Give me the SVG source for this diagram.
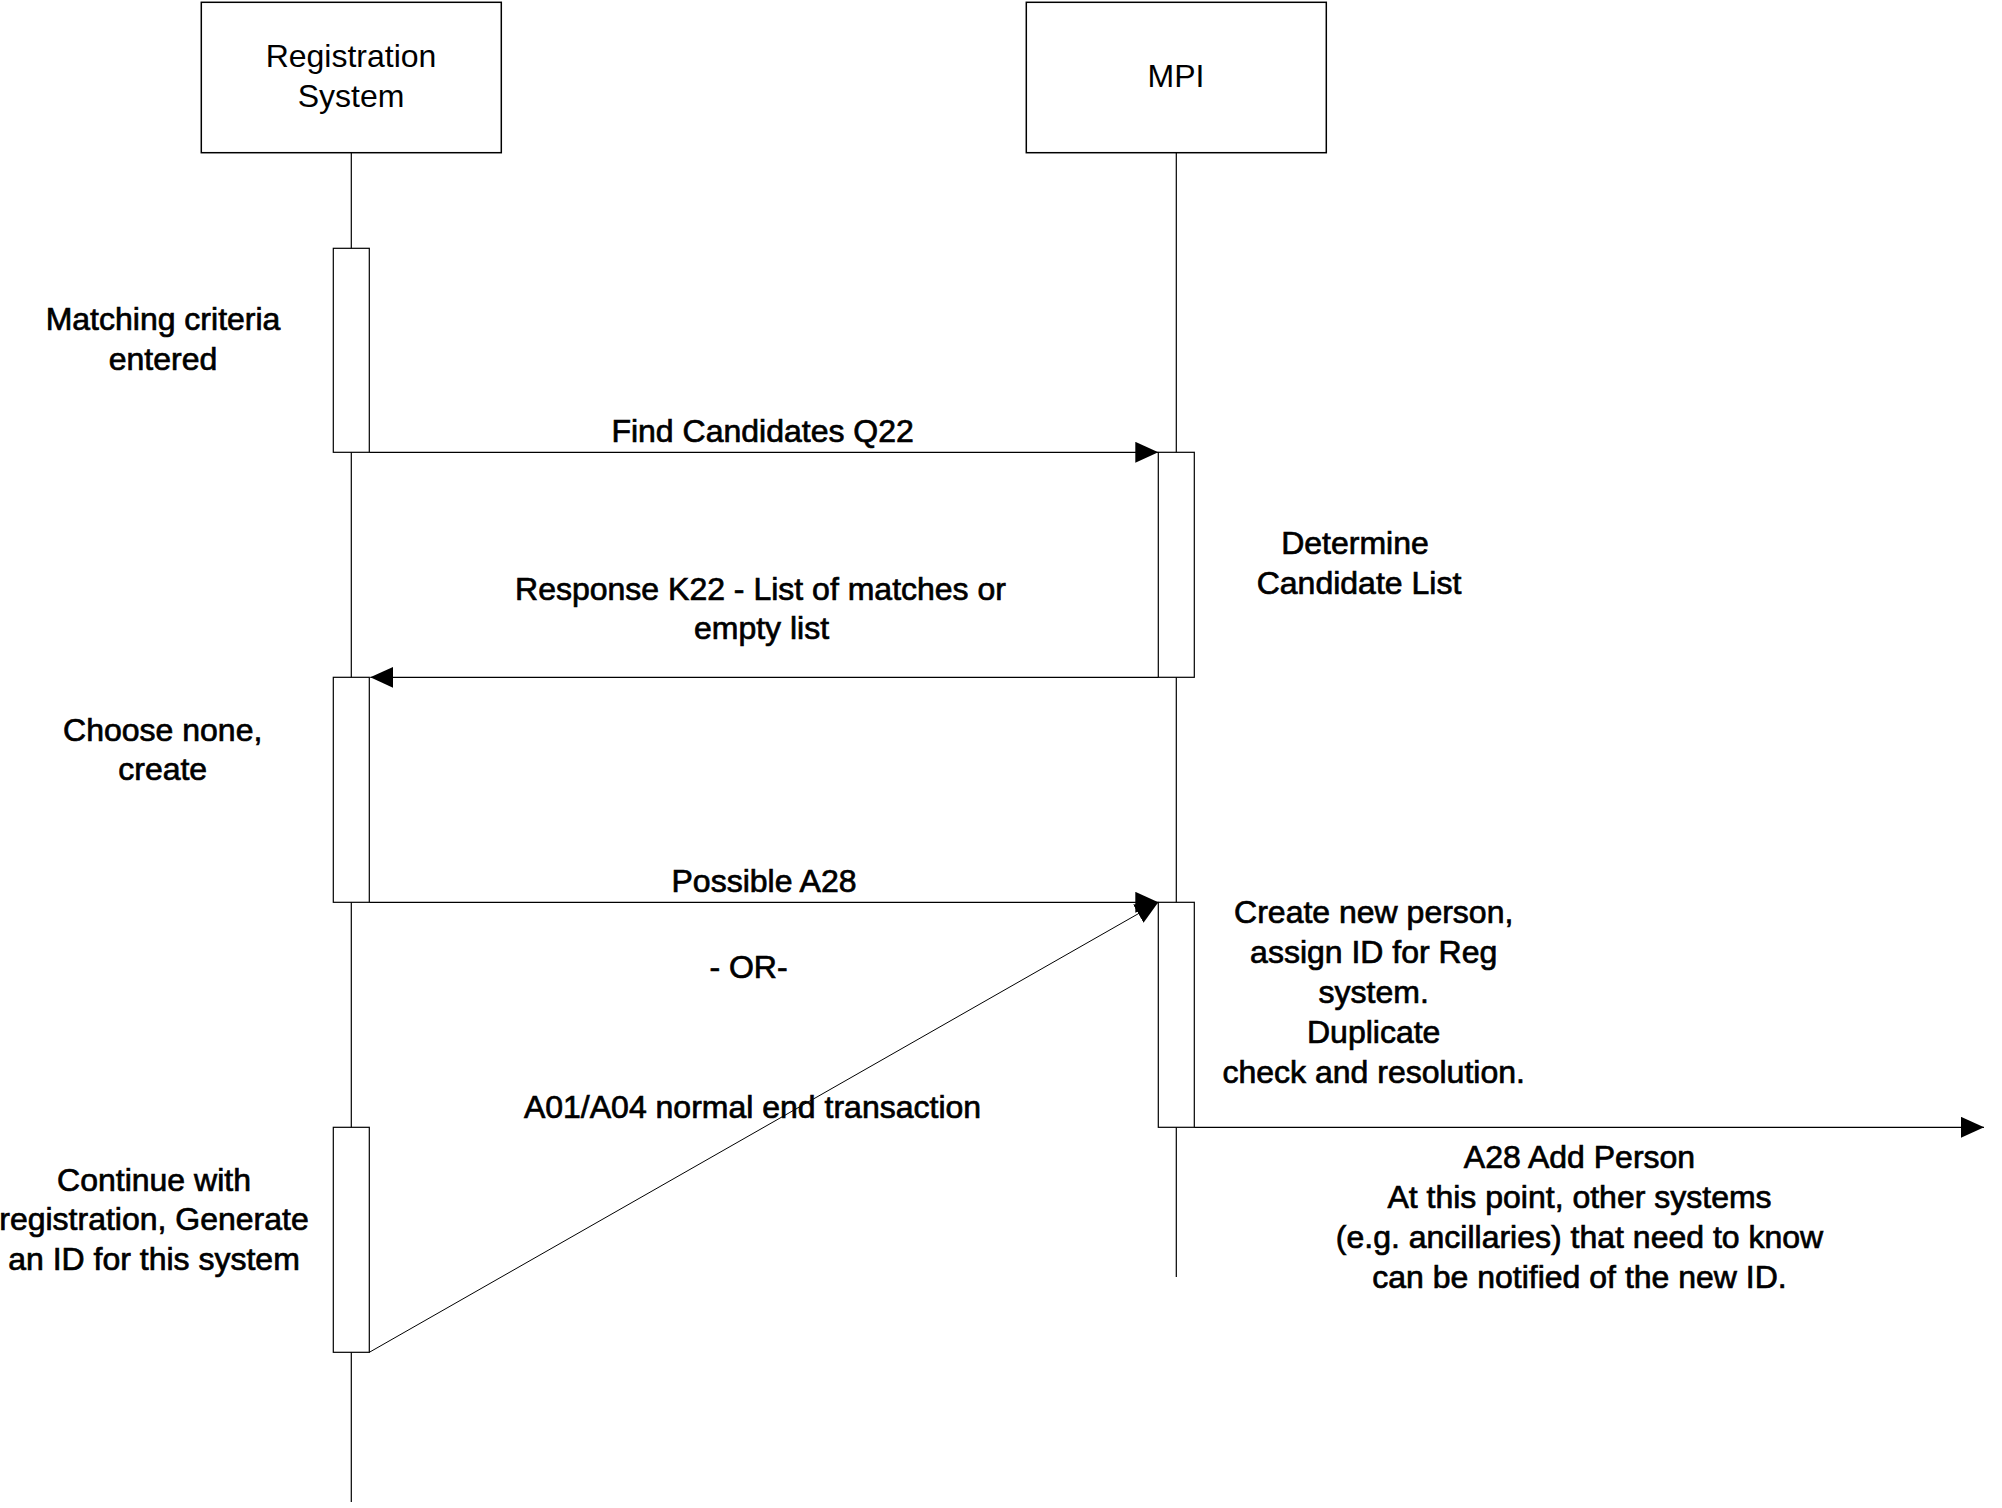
<svg xmlns="http://www.w3.org/2000/svg" width="2002" height="1508" viewBox="0 0 2002 1508">
<style>
  .box { fill: #fff; stroke: #000; stroke-width: 1.5; }
  .act { fill: #fff; stroke: #000; stroke-width: 1.2; }
  .life { stroke: #000; stroke-width: 1.2; fill: none; }
  .msg { stroke: #000; stroke-width: 1.2; fill: none; marker-end: url(#arrow); }
  .title { font-family: "Liberation Sans", Arial, sans-serif; font-size: 32px; fill: #000; text-anchor: middle; }
  .lbl { font-family: "Liberation Sans", Arial, sans-serif; font-size: 32px; fill: #000; stroke: #000; stroke-width: 0.7; text-anchor: middle; }
</style>
<defs>
  <marker id="arrow" markerUnits="userSpaceOnUse" markerWidth="24" markerHeight="22" refX="23" refY="10.5" orient="auto">
    <path d="M0,0 L23,10.5 L0,21 Z" fill="#000"/>
  </marker>
</defs>
<rect width="2002" height="1508" fill="#fff"/>

<g id="lifelines">
  <line class="life" x1="351.3" y1="152.7" x2="351.3" y2="1502"/>
  <line class="life" x1="1176.3" y1="152.7" x2="1176.3" y2="1277"/>
</g>

<g id="registration-system">
  <rect class="box" x="201.3" y="2.3" width="300" height="150.4"/>
  <text class="title" x="351" y="66.5">Registration</text>
  <text class="title" x="351" y="106.5">System</text>
</g>

<g id="mpi">
  <rect class="box" x="1026.3" y="2.3" width="300" height="150.4"/>
  <text class="title" x="1176" y="87.3">MPI</text>
</g>

<g id="reg-act-1">
  <rect class="act" x="333.3" y="248.3" width="36" height="204"/>
</g>
<g id="reg-act-2">
  <rect class="act" x="333.3" y="677.3" width="36" height="225"/>
</g>
<g id="reg-act-3">
  <rect class="act" x="333.3" y="1127.3" width="36" height="225"/>
</g>
<g id="mpi-act-1">
  <rect class="act" x="1158.3" y="452.3" width="36" height="225"/>
</g>
<g id="mpi-act-2">
  <rect class="act" x="1158.3" y="902.3" width="36" height="225"/>
</g>

<g id="connectors">
  <line class="msg" x1="369.3" y1="452.3" x2="1158.3" y2="452.3"/>
  <line class="msg" x1="1158.3" y1="677.3" x2="370.3" y2="677.3"/>
  <line class="msg" x1="369.3" y1="902.3" x2="1158.3" y2="902.3"/>
  <line class="msg" x1="369.3" y1="1352.3" x2="1158.3" y2="902.3" style="stroke-width:1"/>
  <line class="msg" x1="1194.3" y1="1127.3" x2="1984" y2="1127.3"/>
</g>

<g id="note-matching">
  <text class="lbl" x="163" y="330">Matching criteria</text>
  <text class="lbl" x="163" y="369.5">entered</text>
</g>
<g id="label-find">
  <text class="lbl" x="762.6" y="441.5">Find Candidates Q22</text>
</g>
<g id="note-determine">
  <text class="lbl" x="1355" y="554.3">Determine</text>
  <text class="lbl" x="1359" y="594">Candidate List</text>
</g>
<g id="label-response">
  <text class="lbl" x="760.5" y="599.5">Response K22 - List of matches or</text>
  <text class="lbl" x="761.5" y="639.3">empty list</text>
</g>
<g id="note-choose">
  <text class="lbl" x="162.7" y="741">Choose none,</text>
  <text class="lbl" x="162.7" y="780">create</text>
</g>
<g id="label-possible">
  <text class="lbl" x="764" y="891.7">Possible A28</text>
</g>
<g id="label-or">
  <text class="lbl" x="748.5" y="978.3">- OR-</text>
</g>
<g id="label-a01">
  <text class="lbl" x="752.5" y="1118.3">A01/A04 normal end transaction</text>
</g>
<g id="note-create">
  <text class="lbl" x="1373.7" y="923.3">Create new person,</text>
  <text class="lbl" x="1373.7" y="963.3">assign ID for Reg</text>
  <text class="lbl" x="1373.7" y="1003.3">system.</text>
  <text class="lbl" x="1373.7" y="1043.3">Duplicate</text>
  <text class="lbl" x="1373.7" y="1083.3">check and resolution.</text>
</g>
<g id="label-a28">
  <text class="lbl" x="1579.5" y="1168.3">A28 Add Person</text>
  <text class="lbl" x="1579.5" y="1208.3">At this point, other systems</text>
  <text class="lbl" x="1579.5" y="1248.3">(e.g. ancillaries) that need to know</text>
  <text class="lbl" x="1579.5" y="1288.3">can be notified of the new ID.</text>
</g>
<g id="note-continue">
  <text class="lbl" x="154" y="1190.7">Continue with</text>
  <text class="lbl" x="154" y="1230.3">registration, Generate</text>
  <text class="lbl" x="154" y="1270">an ID for this system</text>
</g>
</svg>
